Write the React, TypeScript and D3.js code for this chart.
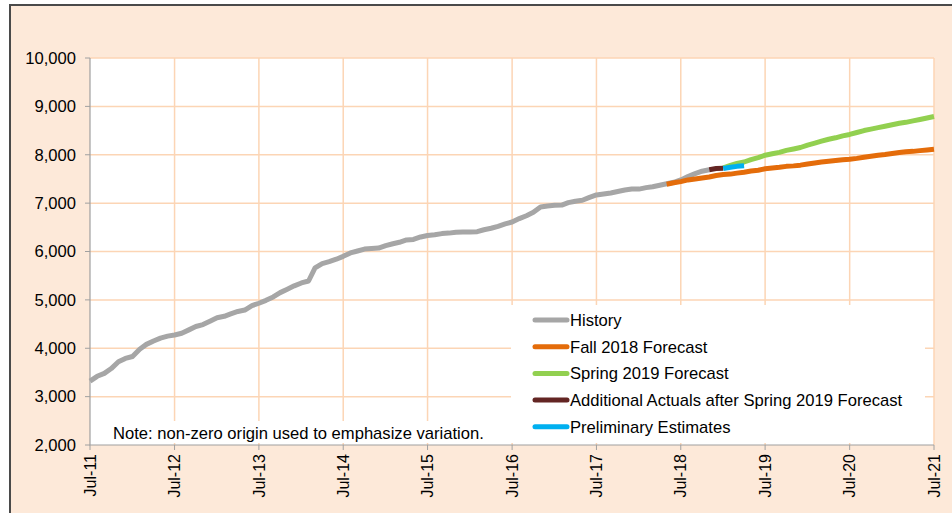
import { useEffect, useRef } from "react";
import * as d3 from "d3";

// monthly series, each starting at the given month
const historyStart = "2011-07";
const historyValues = [
  3320, 3420, 3480, 3580, 3720, 3790, 3830, 3980, 4080, 4150, 4210, 4250,
  4275, 4310, 4380, 4450, 4490, 4560, 4630, 4660, 4710, 4760, 4790, 4880,
  4930, 4990, 5060, 5150, 5220, 5290, 5350, 5390, 5660, 5750, 5790, 5840,
  5900, 5970, 6010, 6050, 6060, 6070, 6120, 6160, 6190, 6240, 6250, 6300,
  6330, 6345, 6370, 6380, 6400, 6405, 6405, 6410, 6450, 6480, 6520, 6570,
  6610, 6680, 6740, 6810, 6920, 6940, 6955, 6960, 7010, 7040, 7060, 7120,
  7170, 7190, 7210, 7240, 7270, 7290, 7290, 7320, 7340, 7370, 7400, 7430,
  7480, 7550, 7610, 7660, 7690
];

const fallStart = "2018-05";
const fallValues = [
  7390, 7420, 7445, 7480, 7500, 7520, 7540, 7570, 7590, 7600, 7620, 7640,
  7665, 7680, 7710, 7725, 7740, 7760, 7770, 7785, 7810, 7830, 7850, 7865,
  7880, 7895, 7905, 7925, 7950, 7970, 7990, 8005, 8025, 8045, 8060, 8070,
  8085, 8100, 8115
];

const springStart = "2019-01";
const springValues = [
  7730, 7780, 7820, 7850, 7900, 7940, 7990, 8020, 8050, 8090, 8120, 8150,
  8200, 8240, 8280, 8320, 8350, 8390, 8420, 8460, 8500, 8530, 8560, 8590,
  8620, 8650, 8670, 8700, 8730, 8760, 8790
];

const actualsStart = "2018-11";
const actualsValues = [7690, 7715, 7720];

const prelimStart = "2019-01";
const prelimValues = [7715, 7740, 7760, 7772];

const yTicks = [2000, 3000, 4000, 5000, 6000, 7000, 8000, 9000, 10000];
const xTickYears = [2011, 2012, 2013, 2014, 2015, 2016, 2017, 2018, 2019, 2020, 2021];

const seriesNames = [
  "History",
  "Fall 2018 Forecast",
  "Spring 2019 Forecast",
  "Additional Actuals after Spring 2019 Forecast",
  "Preliminary Estimates"
];
const seriesColors = ["#a6a6a6", "#e46c0a", "#92d050", "#632523", "#00b0f0"];

const noteText = "Note: non-zero origin used to emphasize variation.";

function toPoints(start: string, values: number[]): [Date, number][] {
  const [yr, mo] = start.split("-").map(Number);
  return values.map((v, i) => [new Date(yr, mo - 1 + i, 1), v]);
}

export default function App() {
  const svgRef = useRef<SVGSVGElement | null>(null);

  useEffect(() => {
    const svg = d3.select(svgRef.current);
    svg.selectAll("*").remove();

    const width = 952;
    const height = 513;
    const left = 90;
    const right = 934;
    const top = 58;
    const bottom = 445;
    const font = "'Liberation Sans', Arial, sans-serif";

    svg.append("rect").attr("width", width).attr("height", height).attr("fill", "#ffffff");
    svg
      .append("rect")
      .attr("x", 10)
      .attr("y", 5)
      .attr("width", width - 10)
      .attr("height", height - 5)
      .attr("fill", "#fde9d9");
    svg
      .append("path")
      .attr("d", `M10,${height} L10,5 L${width},5`)
      .attr("fill", "none")
      .attr("stroke", "#4a4a4a")
      .attr("stroke-width", 2);

    const x = d3
      .scaleTime()
      .domain([new Date(2011, 6, 1), new Date(2021, 6, 1)])
      .range([left, right]);
    const y = d3.scaleLinear().domain([2000, 10000]).range([bottom, top]);

    svg
      .append("rect")
      .attr("x", left)
      .attr("y", top)
      .attr("width", right - left)
      .attr("height", bottom - top)
      .attr("fill", "#ffffff");

    const grid = svg.append("g").attr("stroke", "#fcd5b5").attr("stroke-width", 1.5);
    grid
      .selectAll("line.h")
      .data(yTicks.slice(1))
      .join("line")
      .attr("x1", left)
      .attr("x2", right)
      .attr("y1", (d) => y(d))
      .attr("y2", (d) => y(d));
    grid
      .selectAll("line.v")
      .data(xTickYears.slice(1))
      .join("line")
      .attr("x1", (d) => x(new Date(d, 6, 1)))
      .attr("x2", (d) => x(new Date(d, 6, 1)))
      .attr("y1", top)
      .attr("y2", bottom);

    // note box
    const note = svg.append("g");
    note
      .append("rect")
      .attr("x", 104)
      .attr("y", 421)
      .attr("width", 392)
      .attr("height", 22)
      .attr("fill", "#ffffff");
    note
      .append("text")
      .attr("x", 113)
      .attr("y", 439)
      .attr("font-family", font)
      .attr("font-size", 16.6)
      .attr("fill", "#000")
      .text(noteText);

    // axes
    const axisColor = "#a0a0a0";
    svg
      .append("path")
      .attr("d", `M${left},${top} L${left},${bottom} L${right},${bottom}`)
      .attr("fill", "none")
      .attr("stroke", axisColor)
      .attr("stroke-width", 1.2);

    const yAxis = svg.append("g");
    yAxis
      .selectAll("line")
      .data(yTicks)
      .join("line")
      .attr("x1", left - 5)
      .attr("x2", left)
      .attr("y1", (d) => y(d))
      .attr("y2", (d) => y(d))
      .attr("stroke", axisColor);
    yAxis
      .selectAll("text")
      .data(yTicks)
      .join("text")
      .attr("x", left - 14)
      .attr("y", (d) => y(d))
      .attr("dy", "0.35em")
      .attr("text-anchor", "end")
      .attr("font-family", font)
      .attr("font-size", 16.6)
      .attr("fill", "#000")
      .text((d) => d3.format(",")(d));

    const xAxis = svg.append("g");
    xAxis
      .selectAll("line")
      .data(xTickYears)
      .join("line")
      .attr("x1", (d) => x(new Date(d, 6, 1)))
      .attr("x2", (d) => x(new Date(d, 6, 1)))
      .attr("y1", bottom)
      .attr("y2", bottom + 5)
      .attr("stroke", axisColor);
    xAxis
      .selectAll("text")
      .data(xTickYears)
      .join("text")
      .attr("transform", (d) => `translate(${x(new Date(d, 6, 1))},${bottom + 9}) rotate(-90)`)
      .attr("dy", "0.35em")
      .attr("text-anchor", "end")
      .attr("font-family", font)
      .attr("font-size", 16)
      .attr("fill", "#000")
      .text((d) => `Jul-${String(d).slice(2)}`);

    // series
    const line = d3
      .line<[Date, number]>()
      .x((d) => x(d[0]))
      .y((d) => y(d[1]));

    const series = [
      toPoints(historyStart, historyValues),
      toPoints(fallStart, fallValues),
      toPoints(springStart, springValues),
      toPoints(actualsStart, actualsValues),
      toPoints(prelimStart, prelimValues)
    ];

    svg
      .append("g")
      .selectAll("path")
      .data(series)
      .join("path")
      .attr("d", (d) => line(d))
      .attr("fill", "none")
      .attr("stroke", (_, i) => seriesColors[i])
      .attr("stroke-width", 5)
      .attr("stroke-linejoin", "round");

    // legend
    const legend = svg.append("g");
    legend
      .append("rect")
      .attr("x", 511)
      .attr("y", 305)
      .attr("width", 414)
      .attr("height", 138)
      .attr("fill", "#ffffff");
    const items = legend
      .selectAll("g")
      .data(seriesNames)
      .join("g")
      .attr("transform", (_, i) => `translate(0,${320 + i * 26.7})`);
    items
      .append("line")
      .attr("x1", 535)
      .attr("x2", 567)
      .attr("stroke", (_, i) => seriesColors[i])
      .attr("stroke-width", 5)
      .attr("stroke-linecap", "round");
    items
      .append("text")
      .attr("x", 570)
      .attr("dy", "0.35em")
      .attr("font-family", font)
      .attr("font-size", 16.6)
      .attr("fill", "#000")
      .text((d) => d);
  }, []);

  return (
    <svg
      ref={svgRef}
      width={952}
      height={513}
      viewBox="0 0 952 513"
      style={{ position: "absolute", left: 0, top: 0, display: "block" }}
    />
  );
}
